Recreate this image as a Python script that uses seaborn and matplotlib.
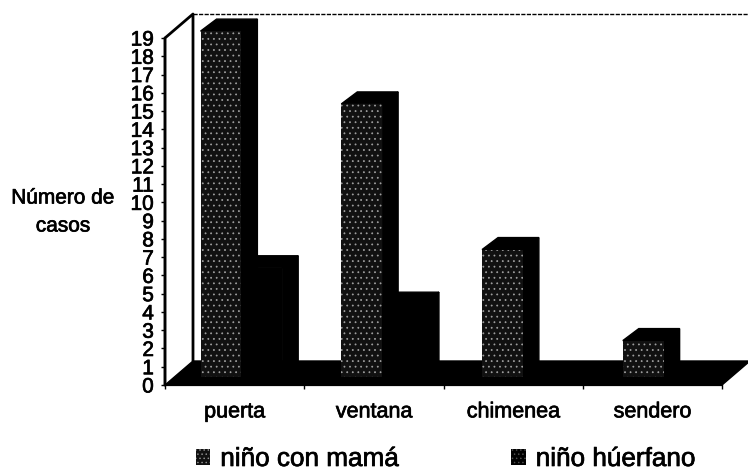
import matplotlib
matplotlib.use('Agg')
import matplotlib.pyplot as plt
import matplotlib.patheffects as pe
from matplotlib.patches import Polygon
import pandas as pd
import seaborn as sns

categorias = ['puerta', 'ventana', 'chimenea', 'sendero']
con_mama = [19, 15, 7, 2]
huerfano = [6, 4, 0, 0]
ticks_y = list(range(0, 20))
serie_a = 'niño con mamá'
serie_b = 'niño húerfano'

sns.set_theme(style='white')
plt.rcParams['font.family'] = ['Liberation Sans', 'DejaVu Sans']
plt.rcParams['hatch.linewidth'] = 0.55

W, H = 748, 470
fig = plt.figure(figsize=(W / 100, H / 100), dpi=100)
grueso = [pe.withStroke(linewidth=0.5, foreground='black')]

def caja(x0, x1, y_bajo, y_alto):
    return [x0 / W, 1 - y_bajo / H, (x1 - x0) / W, (y_bajo - y_alto) / H]

# plano frontal: ejes y etiquetas
ax = fig.add_axes(caja(165, 722, 385, 38))
ax.set_xlim(0, 4)
ax.set_ylim(0, 19)
ax.patch.set_alpha(0)
dx = 28 / (722 - 165) * 4     # profundidad del grafico 3d
dy = 24 / 347 * 19
ax.add_patch(Polygon([(0, 0), (4, 0), (4 + dx, dy), (dx, dy)], color='black', clip_on=False, zorder=1))
ax.plot([0, 0, dx, dx], [0, 19, 19 + dy, dy], color='black', lw=2, clip_on=False, zorder=1)
ax.plot([dx, 4 + dx], [19 + dy, 19 + dy], color='black', lw=1, ls=(0, (3, 1)), clip_on=False, zorder=1)
ax.set_yticks(ticks_y)
ax.set_xticks(range(5))
ax.set_xticklabels([])
ax.tick_params(axis='both', length=3, width=1, color='black', bottom=True, left=True)
ax.tick_params(axis='y', labelsize=15, labelcolor='black', pad=5)
for t in ax.get_yticklabels():
    t.set_path_effects(grueso)
sns.despine(ax=ax, top=True, right=True)
for lado in ['left', 'bottom']:
    ax.spines[lado].set_color('black')
    ax.spines[lado].set_linewidth(1.6)
for i, c in enumerate(categorias):
    t = ax.text(i + 0.5, -1.47, c, ha='center', va='center', fontsize=15.5, color='black')
    t.set_path_effects(grueso)
t = fig.text(63 / W, 1 - 212 / H, 'Número de\ncasos', ha='center', va='center', fontsize=15,
             color='black', linespacing=1.6)
t.set_path_effects(grueso)

# barras, un poco metidas en el suelo
ax2 = fig.add_axes(caja(171, 734, 377, 22))
df = pd.DataFrame({'categoria': categorias * 2,
                   'casos': con_mama + huerfano,
                   'serie': [serie_a] * 4 + [serie_b] * 4})
sns.barplot(data=df, x='categoria', y='casos', hue='serie', hue_order=[serie_a, serie_b],
            palette=['#111111', '#000000'], width=0.58, gap=0, saturation=1, ax=ax2, zorder=3)
ax2.set_xlim(-0.5, 3.5)
ax2.set_ylim(0, 19.5)
ax2.patch.set_alpha(0)
ax2.axis('off')

prof_x = 16 / (734 - 171) * 4
prof_y = 12 / (377 - 22) * 19.5
for n, cont in enumerate(ax2.containers):
    for b in cont:
        h = b.get_height()
        b.set_linewidth(0)
        if h == 0:
            b.set_visible(False)
            continue
        x0, x1 = b.get_x(), b.get_x() + b.get_width()
        # lado y tapa del prisma
        z = 3 if n == 0 else 2
        ax2.add_patch(Polygon([(x1, 0), (x1 + prof_x, prof_y), (x1 + prof_x, h + prof_y), (x1, h)],
                              color='black', clip_on=False, zorder=z))
        ax2.add_patch(Polygon([(x0, h), (x0 + prof_x, h + prof_y), (x1 + prof_x, h + prof_y), (x1, h)],
                              color='black', clip_on=False, zorder=z))
        b.set_zorder(z + 0.5)
        b.set_edgecolor('#a0a0a0' if n == 0 else 'black')
        b.set_hatch('...' if n == 0 else None)

handles, labels = ax2.get_legend_handles_labels()
ax2.get_legend().remove()
for h_, borde in zip(handles, ['#909090', '#505050']):
    h_.set_edgecolor(borde)
    h_.set_hatch('....')
    h_.set_linewidth(0)
ley = fig.legend(handles, labels, ncol=2, frameon=False, loc='center left',
                 bbox_to_anchor=(196 / W, 1 - 459 / H), fontsize=18.8, labelcolor='black',
                 handlelength=0.55, handleheight=0.55, handletextpad=0.38, columnspacing=4.3,
                 borderpad=0, borderaxespad=0)
for t in ley.get_texts():
    t.set_path_effects(grueso)

fig.savefig('out.png', dpi=100, facecolor='white')
